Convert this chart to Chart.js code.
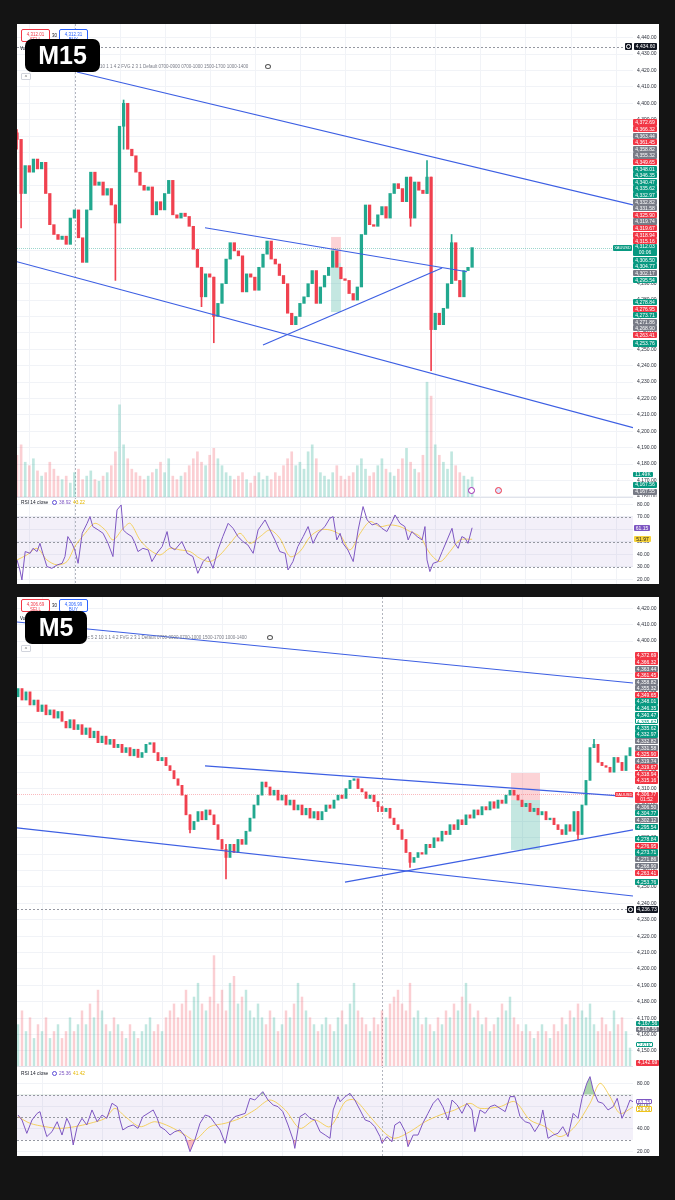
<!DOCTYPE html>
<html>
<head>
<meta charset="utf-8">
<title>XAUUSD M15 / M5</title>
<script src="https://cdn.jsdelivr.net/npm/chart.js@4.4.1/dist/chart.umd.min.js"></script>
<style>
  body { margin:0; width:675px; height:1200px; background:#141414; position:relative; overflow:hidden; font-family:"Liberation Sans", Arial, sans-serif; }
  .panel { position:absolute; left:17px; width:642px; background:#fff; }
  canvas { position:absolute; left:17px; }
  .sep { position:absolute; left:17px; width:616px; height:1px; background:#e0e3eb; }
  .tag { position:absolute; box-sizing:border-box; font-size:5px; text-align:center; color:#fff; white-space:nowrap; border-radius:1px; overflow:hidden; }
  .r { background:#f23645; } .g { background:#089981; } .k { background:#787b86; } .b { background:#131722; }
  .p { background:#7e57c2; } .y { background:#f7d33c; color:#131722; }
  .og { background:#fff; color:#089981; border:0.6px solid #089981; }
  .op { background:#fff; color:#7e57c2; border:0.6px solid #7e57c2; }
  .oy { background:#fff; color:#c9a200; border:0.6px solid #f0c419; }
  .tf { position:absolute; left:25px; background:#000; color:#fff; font:bold 25px "Liberation Sans", Arial, sans-serif; border-radius:7px; text-align:center; }
  .txt { position:absolute; font-size:4.5px; color:#787b86; white-space:nowrap; }
  .order { position:absolute; box-sizing:border-box; width:29px; height:13px; border:0.7px solid; border-radius:2px; font-size:4.5px; text-align:center; line-height:5px; padding-top:1.5px; background:#fff; }
  .btn { position:absolute; left:21px; width:10px; height:7px; box-sizing:border-box; border:0.6px solid #d1d4dc; border-radius:1px; font-size:5px; line-height:7px; text-align:center; color:#555; background:#fff; }
  .dot { position:absolute; box-sizing:border-box; border-radius:50%; }
</style>
</head>
<body>
<div class="panel" style="top:24px;height:560px"></div>
<div class="panel" style="top:597px;height:559px"></div>

<canvas id="m15Price" width="642" height="473" style="top:24px"></canvas>
<canvas id="m15Rsi" width="642" height="87" style="top:497px"></canvas>
<canvas id="m5Price" width="642" height="469" style="top:597px"></canvas>
<canvas id="m5Rsi" width="642" height="90" style="top:1066px"></canvas>
<div class="sep" style="top:497px"></div>
<div class="sep" style="top:1066px"></div>

<!-- M15 header -->
<div class="order" style="left:21px;top:29px;border-color:#f23645;color:#f23645">4,312.01<br>SELL</div>
<div class="txt" style="left:52px;top:33px;color:#131722">30</div>
<div class="order" style="left:59px;top:29px;border-color:#2962ff;color:#2962ff">4,312.31<br>BUY</div>
<div class="txt" style="left:20px;top:46px;color:#131722">Vol</div>
<div class="txt" style="left:100px;top:64px">10 1 1 4 2 FVG 2 3 1 Default 0700-0900 0700-1000 1500-1700 1000-1400</div>
<div class="dot" style="left:265px;top:64px;width:6px;height:5px;border:1px solid #555"></div>
<div class="btn" style="top:73px">^</div>
<div class="tf" style="top:39px;width:75px;height:33px;line-height:33px">M15</div>
<div class="txt" style="left:21px;top:500px;color:#131722;font-size:4.8px">RSI 14 close</div>
<div class="dot" style="left:52px;top:500px;width:5px;height:5px;border:1.2px solid #5b4bd6"></div>
<div class="txt" style="left:59px;top:500px;color:#7e57c2;font-size:4.8px">38.92</div>
<div class="txt" style="left:73px;top:500px;color:#e6b800;font-size:4.8px">43.22</div>
<div class="dot" style="left:468px;top:487px;width:7px;height:7px;border:1px solid #9c27b0;background:#fff"></div>
<div class="dot" style="left:495px;top:487px;width:7px;height:7px;border:1px solid #f23645;background:#dbe4ff"></div>

<!-- M5 header -->
<div class="order" style="left:21px;top:599px;border-color:#f23645;color:#f23645">4,306.69<br>SELL</div>
<div class="txt" style="left:52px;top:603px;color:#131722">30</div>
<div class="order" style="left:59px;top:599px;border-color:#2962ff;color:#2962ff">4,306.99<br>BUY</div>
<div class="txt" style="left:20px;top:616px;color:#131722">Vol</div>
<div class="txt" style="left:86px;top:635px">rc 5 2 10 1 1 4 2 FVG 2 3 1 Default 0700-0900 0700-1000 1500-1700 1000-1400</div>
<div class="dot" style="left:267px;top:635px;width:6px;height:5px;border:1px solid #555"></div>
<div class="btn" style="top:645px">^</div>
<div class="tf" style="top:611px;width:62px;height:33px;line-height:33px">M5</div>
<div class="txt" style="left:21px;top:1071px;color:#131722;font-size:4.8px">RSI 14 close</div>
<div class="dot" style="left:52px;top:1071px;width:5px;height:5px;border:1.2px solid #5b4bd6"></div>
<div class="txt" style="left:59px;top:1071px;color:#7e57c2;font-size:4.8px">25.36</div>
<div class="txt" style="left:73px;top:1071px;color:#e6b800;font-size:4.8px">41.42</div>

<script>
// ---------- M15 data ----------
const m15Open0 = 4382;
const m15Close = [
  4378, 4345, 4362, 4358, 4366, 4360, 4364, 4345, 4326, 4320,
  4317, 4319, 4314, 4330, 4335, 4318, 4303, 4335, 4358, 4350,
  4352, 4344, 4348, 4338, 4327, 4386, 4400, 4372, 4368, 4358,
  4350, 4347, 4349, 4332, 4340, 4335, 4345, 4353, 4332, 4330,
  4333, 4331, 4325, 4311, 4300, 4282, 4296, 4294, 4270, 4278,
  4290, 4305, 4315, 4310, 4307, 4285, 4296, 4294, 4286, 4300,
  4308, 4316, 4305, 4302, 4295, 4290, 4272, 4265, 4270, 4278,
  4282, 4290, 4298, 4278, 4288, 4295, 4300, 4310, 4300, 4293,
  4292, 4284, 4280, 4288, 4320, 4338, 4326, 4325, 4332, 4337,
  4330, 4345, 4351, 4348, 4340, 4355, 4330, 4352, 4347, 4345,
  4355, 4262, 4272, 4265, 4275, 4290, 4315, 4292, 4282, 4298,
  4300, 4312
];
// [candle, low, high] for the visible wicks
const m15Wicks = [
  [0, 4372, 4384], [1, 4324, 4362], [24, 4292, 4338], [26, 4372, 4402], [45, 4276, 4300],
  [48, 4254, 4294], [96, 4325, 4355], [100, 4345, 4365], [101, 4237, 4355], [106, 4290, 4320]
];
const m15Volume = [
  24, 30, 20, 18, 22, 15, 12, 14, 20, 16,
  12, 10, 12, 8, 14, 16, 10, 12, 15, 10,
  9, 12, 14, 18, 26, 53, 30, 22, 16, 14,
  12, 10, 12, 14, 16, 20, 14, 22, 12, 10,
  12, 14, 18, 22, 26, 20, 18, 24, 28, 22,
  18, 14, 12, 10, 12, 14, 10, 8, 12, 14,
  10, 12, 10, 14, 12, 18, 22, 26, 18, 20,
  16, 26, 30, 22, 14, 12, 10, 14, 18, 12,
  10, 12, 14, 18, 22, 16, 12, 14, 18, 22,
  16, 14, 12, 16, 22, 28, 20, 16, 14, 24,
  66, 58, 30, 24, 20, 16, 26, 18, 14, 12,
  10, 11.49
];
const m15Trends = [
  [[14.63, 4419.1], [150.24, 4338.0]],
  [[0, 4303.4], [150.24, 4202.2]],
  [[45.85, 4324.1], [109.76, 4297.3]],
  [[60, 4252.6], [103.66, 4299.6]]
];
const m15Position = { from: 76.6, to: 79.0, stop: 4318.5, entry: 4302.6, target: 4272.7 };
const m15Rsi = [
  [0,35.4],[0.7,27.4],[1.2,19.4],[2,42.1],[3.2,40.7],[3.9,44.7],[4.9,42.1],[5.6,48.7],[6.3,40.7],[7.3,30.1],
  [8.5,28.7],[9.8,31.4],[11,32.7],[11.7,38.1],[12.4,54.1],[13.4,48.7],[14.1,43.4],[14.9,32.7],[15.9,56.7],[17.1,64.7],
  [17.8,70.1],[18.5,62.1],[19.8,59.4],[21,56.7],[22.2,48.7],[23.4,38.1],[24.4,75.4],[25.4,79.4],[25.9,59.4],[26.8,56.7],
  [28,54.1],[28.8,48.7],[29.5,42.1],[30.7,44.7],[32,43.4],[32.9,34.1],[34.1,40.7],[35.4,46.1],[36.6,58.1],[37.3,46.1],
  [38.5,43.4],[40.2,50.1],[41.5,40.7],[42.9,38.1],[44.1,24.7],[45.4,34.1],[46.6,38.1],[47.8,28.7],[49,43.4],[50.2,54.1],
  [51.5,64.7],[52.7,60.7],[53.9,54.1],[55.1,50.1],[56.3,47.4],[57.6,40.7],[58.8,59.4],[60.5,67.4],[61.7,59.4],[62.9,51.4],
  [64.1,42.1],[65.4,40.7],[66.1,27.4],[67.3,34.1],[68.5,46.1],[69.8,54.1],[71,62.1],[72.2,48.7],[73.4,56.7],[75.1,62.1],
  [76.3,68.7],[77.1,70.1],[78,51.4],[78.8,56.7],[79.5,48.7],[80.7,43.4],[82,34.1],[83.2,59.4],[84.4,78.1],[85.4,67.4],
  [86.6,63.4],[87.8,64.7],[89,60.7],[90.2,58.1],[91.5,66.1],[92.2,71.4],[93.4,64.7],[94.6,62.1],[95.4,51.4],[96.3,58.1],
  [97.6,54.1],[98.8,51.4],[99.5,62.1],[100,35.4],[100.7,26.1],[101.5,32.7],[102.7,34.1],[103.7,42.1],[104.9,51.4],[106.1,60.7],
  [106.8,48.7],[107.6,44.7],[108.5,54.1],[109.3,52.7],[110,48.7],[111,61.15]
];
const m15RsiMa = [
  [0,35.4],[2.4,39.4],[4.9,44.7],[7.3,35.4],[9.8,31.4],[12.2,34.1],[14.1,46.1],[16.6,56.7],[19,64.7],[21.5,59.4],
  [23.4,51.4],[25.9,60.7],[27.6,64.7],[30,51.4],[32.4,43.4],[34.9,39.4],[37.3,44.7],[39.8,43.4],[42.2,42.1],[44.6,36.7],
  [47.1,34.1],[49.5,39.4],[52,48.7],[54.4,56.7],[56.8,48.7],[59.3,54.1],[61.7,59.4],[64.1,52.7],[66.6,38.1],[69,42.1],
  [71.5,54.1],[73.9,59.4],[76.3,59.4],[78.8,55.4],[81.2,43.4],[83.7,56.7],[86.1,66.1],[88.5,62.1],[91,63.4],[93.4,62.1],
  [95.9,58.1],[98.3,54.1],[100.7,40.7],[103.2,34.1],[105.6,42.1],[108,51.4],[111,51.97]
];
const m15TagsUpper = [
  ['4,372.69','r'],['4,366.32','r'],['4,363.44','k'],['4,361.45','r'],['4,358.82','k'],['4,355.32','k'],
  ['4,349.65','r'],['4,348.01','g'],['4,346.35','g'],['4,340.47','g'],['4,335.62','g'],['4,332.97','g'],
  ['4,332.82','k'],['4,331.58','k'],['4,325.90','r'],['4,319.74','k'],['4,319.67','r'],['4,318.94','r'],['4,315.16','r']
];
const m15TagsMid = [['4,306.50','g'],['4,304.77','g'],['4,302.17','k'],['4,295.54','g']];
const m15TagsLow = [['4,278.84','g'],['4,276.95','r'],['4,273.71','g'],['4,271.86','k'],['4,268.90','k'],['4,263.41','r']];

// ---------- M5 data ----------
const m5Open0 = 4366;
const m5Close = [
  4371, 4364, 4369, 4361, 4364, 4357, 4361, 4355, 4358, 4353,
  4357, 4351, 4347, 4352, 4346, 4349, 4343, 4347, 4341, 4345,
  4338, 4342, 4337, 4340, 4335, 4337, 4332, 4335, 4330, 4334,
  4329, 4332, 4337, 4338, 4332, 4327, 4329, 4324, 4321, 4316,
  4312, 4306, 4294, 4285, 4290, 4296, 4291, 4297, 4294, 4288,
  4279, 4273, 4268, 4276, 4271, 4279, 4276, 4284, 4292, 4300,
  4306, 4314, 4311, 4306, 4309, 4303, 4306, 4300, 4303, 4297,
  4300, 4294, 4298, 4292, 4296, 4291, 4296, 4300, 4298, 4303,
  4306, 4304, 4310, 4315, 4316, 4310, 4308, 4304, 4306, 4302,
  4299, 4296, 4298, 4292, 4288, 4285, 4279, 4271, 4265, 4268,
  4271, 4270, 4276, 4274, 4280, 4278, 4284, 4282, 4288, 4285,
  4291, 4288, 4294, 4292, 4297, 4294, 4299, 4297, 4302, 4298,
  4303, 4301, 4306, 4309, 4306, 4303, 4299, 4301, 4296, 4298,
  4294, 4296, 4291, 4292, 4288, 4285, 4282, 4288, 4284, 4296,
  4282, 4300, 4315, 4335, 4337, 4326, 4324, 4323, 4320, 4329,
  4326, 4321, 4330, 4335
];
const m5Wicks = [
  [43, 4283, 4294], [52, 4255, 4276], [90, 4296, 4302], [98, 4262, 4271], [140, 4279, 4296], [144, 4335, 4340]
];
const m5Volume = [
  6, 8, 5, 7, 4, 6, 5, 7, 4, 5,
  6, 4, 5, 7, 5, 6, 8, 6, 9, 7,
  11, 8, 6, 5, 7, 6, 5, 4, 6, 5,
  4, 5, 6, 7, 5, 6, 5, 7, 8, 9,
  7, 9, 11, 8, 10, 12, 9, 8, 10, 16,
  9, 11, 8, 12, 13, 9, 10, 11, 8, 7,
  9, 7, 6, 8, 7, 5, 6, 8, 7, 9,
  12, 10, 8, 7, 6, 5, 6, 7, 6, 5,
  7, 8, 6, 9, 12, 8, 7, 6, 5, 7,
  6, 8, 7, 9, 10, 11, 9, 8, 12, 7,
  8, 6, 7, 6, 5, 7, 6, 8, 7, 9,
  8, 10, 12, 9, 7, 8, 6, 7, 5, 6,
  7, 9, 8, 10, 7, 6, 5, 6, 5, 4,
  5, 6, 5, 4, 6, 5, 7, 6, 8, 7,
  9, 8, 7, 9, 6, 5, 7, 6, 5, 8,
  6, 7, 5, 2.61
];
const m5Trends = [
  [[-0.25, 4411.6], [153.75, 4374.4]],
  [[-0.25, 4286.0], [153.75, 4244.5]],
  [[46.75, 4323.8], [153.75, 4304.9]],
  [[81.75, 4253.0], [153.75, 4284.8]]
];
const m5Position = { from: 123.25, to: 130.5, stop: 4319.5, entry: 4303, target: 4272.6 };
const m5Rsi = [
  [0,52],[1,47.6],[2.2,35.8],[3.5,47.6],[4.8,53.5],[5.5,55],[6.2,44.7],[7.2,32.9],[8.5,37.3],[9.8,46.1],
  [11,34.3],[12.2,49.1],[13,43.2],[13.8,25.5],[14.8,41.7],[16,49.1],[17.2,43.2],[18.5,56.5],[19.8,46.1],[21,52],
  [22.2,49.1],[23.5,62.4],[24.8,59.4],[25.5,47.6],[26.2,38.8],[27.5,41.7],[28.8,43.2],[30,40.2],[31.2,50.6],[32.5,53.5],
  [33.8,56.5],[34.8,49.1],[35.5,41.7],[36.8,38.8],[38,34.3],[39.2,37.3],[40.5,38.8],[41.8,32.9],[43,19.6],[44.2,29.9],
  [45.5,44.7],[46.8,52],[48,50.6],[49.2,44.7],[50.5,38.8],[51.8,27],[53,46.1],[54.2,50.6],[55.5,52],[56.8,53.5],
  [58,66.8],[59.2,65.3],[61.2,72.7],[62.5,65.3],[63.8,60.9],[65,59.4],[66.2,55],[67.5,43.2],[68.8,29.9],[69.2,22.5],
  [70.5,50.6],[71.8,53.5],[73,49.1],[74.2,47.6],[75.5,37.3],[76.8,34.3],[78,31.4],[78.8,56.5],[80,68.3],[80.5,63.8],
  [81.8,68.3],[83,71.2],[84.2,65.3],[85.5,56.5],[86.8,47.6],[88,46.1],[89.2,41.7],[90.5,32.9],[91,27],[92.2,32.9],
  [93.5,28.4],[94.2,43.2],[95.5,46.1],[96.8,37.3],[97.5,24],[98.8,34.3],[100,34.3],[101.2,44.7],[102.5,53.5],[103.8,62.4],
  [105,66.8],[106.2,59.4],[107.5,47.6],[108.5,65.3],[109.8,60.9],[111,53.5],[112.2,62.4],[113.5,56.5],[114.2,37.3],[115.5,56.5],
  [116.8,53.5],[118,59.4],[119.2,60.9],[120.5,57.9],[121.8,55],[123,68.3],[124.2,68.3],[125.5,50.6],[126.8,46.1],[128,44.7],
  [129.2,37.3],[130.5,44.7],[131.2,56.5],[132.5,31.4],[133.8,34.3],[135,35.8],[136.2,41.7],[137.5,32.9],[138.8,53.5],[140,49.1],
  [141,66.8],[142.2,80.1],[143,86],[143.8,74.2],[145,63.8],[146.2,62.4],[147.5,56.5],[148.8,59.4],[149.8,66.8],[151,49.1],
  [152.2,57.9],[153,65.3],[153.75,63.75]
];
const m5RsiMa = [
  [0,50.6],[3,44.7],[6.8,41.7],[10.5,40.2],[14.2,41.7],[18,44.7],[21.8,49.1],[24.2,57.9],[26.8,50.6],[30.5,41.7],
  [34.2,46.1],[38,41.7],[41.8,34.3],[44.2,29.9],[48,41.7],[51.8,44.7],[55.5,49.1],[59.2,56.5],[63,65.3],[66.8,56.5],
  [70.5,40.2],[74.2,47.6],[78,41.7],[81.8,63.8],[84.2,65.3],[88,50.6],[91.8,35.8],[94.2,31.4],[98,37.3],[101.8,46.1],
  [105.5,52],[109.2,56.5],[113,62.4],[115.5,57.9],[120.5,59.4],[124.2,63.8],[128,47.6],[131.8,41.7],[135.5,32.9],[139.2,41.7],
  [143,62.4],[145.5,80.1],[148,68.3],[150.5,53.5],[153.75,59.06]
];
const m5TagsUpper = [
  ['4,372.69','r'],['4,366.32','r'],['4,363.44','k'],['4,361.45','r'],['4,358.82','k'],['4,355.32','k'],
  ['4,349.65','r'],['4,348.01','g'],['4,346.35','g'],['4,340.47','g'],['4,335.67','og'],['4,335.62','g'],['4,332.97','g'],
  ['4,332.82','k'],['4,331.58','k'],['4,325.90','r'],['4,319.74','k'],['4,319.67','r'],['4,318.94','r'],['4,315.16','r']
];
const m5TagsMid = [['4,306.50','k'],['4,304.77','g'],['4,302.12','k'],['4,295.54','g']];
const m5TagsLow = [['4,278.84','g'],['4,276.95','r'],['4,273.71','g'],['4,271.86','k'],['4,268.90','k'],['4,263.41','r']];

// ---------- drawing ----------
const UP = '#22a88f', DOWN = '#f0414f';
const UP_VOL = 'rgba(34,168,143,0.28)', DOWN_VOL = 'rgba(240,65,79,0.25)';
Chart.defaults.font.family = '"Liberation Sans", Arial, sans-serif';

const overlay = {
  id: 'overlay',
  beforeDatasetsDraw(chart, args, o) {
    const { ctx, chartArea: a, scales: { x, y } } = chart;
    ctx.save();
    ctx.beginPath(); ctx.rect(a.left, a.top, a.width, a.height); ctx.clip();
    ctx.lineWidth = 1;
    if (o.gridStep) {
      ctx.strokeStyle = '#f1f3f7';
      for (let v = o.gridStart; v < x.max; v += o.gridStep) {
        const px = Math.round(x.getPixelForValue(v)) + 0.5;
        ctx.beginPath(); ctx.moveTo(px, a.top); ctx.lineTo(px, a.bottom); ctx.stroke();
      }
    }
    if (o.band) {
      const t = y.getPixelForValue(70), b = y.getPixelForValue(30);
      ctx.fillStyle = 'rgba(126,87,194,0.09)';
      ctx.fillRect(a.left, t, a.width, b - t);
      ctx.strokeStyle = '#9598a1'; ctx.setLineDash([2, 2]);
      [70, 50, 30].forEach(v => {
        const py = Math.round(y.getPixelForValue(v)) + 0.5;
        ctx.beginPath(); ctx.moveTo(a.left, py); ctx.lineTo(a.right, py); ctx.stroke();
      });
      ctx.setLineDash([]);
    }
    if (o.session != null) {
      const px = Math.round(x.getPixelForValue(o.session)) + 0.5;
      ctx.strokeStyle = '#b2b5be'; ctx.setLineDash([2, 2]);
      ctx.beginPath(); ctx.moveTo(px, a.top); ctx.lineTo(px, a.bottom); ctx.stroke();
      ctx.setLineDash([]);
    }
    (o.hlines || []).forEach(h => {
      const py = Math.round(y.getPixelForValue(h.v)) + 0.5;
      ctx.strokeStyle = h.color; ctx.setLineDash(h.dash || []);
      ctx.beginPath(); ctx.moveTo(a.left, py); ctx.lineTo(a.right, py); ctx.stroke();
    });
    ctx.setLineDash([]);
    if (o.box) {
      const b = o.box, x0 = x.getPixelForValue(b.from), x1 = x.getPixelForValue(b.to);
      const ys = y.getPixelForValue(b.stop), ye = y.getPixelForValue(b.entry), yt = y.getPixelForValue(b.target);
      ctx.fillStyle = 'rgba(242,54,69,0.22)'; ctx.fillRect(x0, ys, x1 - x0, ye - ys);
      ctx.fillStyle = 'rgba(8,153,129,0.24)'; ctx.fillRect(x0, ye, x1 - x0, yt - ye);
    }
    ctx.restore();
  }
};
Chart.register(overlay);

function rightAxis(min, max, step, fmt) {
  return {
    position: 'right', min, max, beginAtZero: false,
    border: { display: false },
    grid: { color: '#f1f3f7', drawTicks: false },
    ticks: { autoSkip: false, padding: 4, color: '#2a2e39', font: { size: 5 }, callback: fmt },
    afterBuildTicks(s) {
      const t = [];
      for (let v = Math.ceil(min / step) * step; v <= max; v += step) t.push({ value: v });
      s.ticks = t;
    },
    afterFit(s) { s.width = 26; s.paddingTop = 0; s.paddingBottom = 0; }
  };
}
const fmtPrice = v => v.toLocaleString('en-US', { minimumFractionDigits: 2, maximumFractionDigits: 2 });
const pts = arr => arr.map(([x, y]) => ({ x, y }));

function drawPrice(id, s) {
  const opens = [s.open0].concat(s.close.slice(0, -1));
  const up = s.close.map((c, i) => c >= opens[i]);
  const lines = s.trends.map(t => ({
    type: 'line', data: pts(t), borderColor: '#3d5fe3', borderWidth: 1.2, pointRadius: 0, order: 0
  }));
  new Chart(document.getElementById(id), {
    type: 'bar',
    data: {
      datasets: lines.concat([
        { data: s.close.map((c, i) => ({ x: i, y: [opens[i], c] })), backgroundColor: up.map(u => u ? UP : DOWN),
          barThickness: s.body, minBarLength: 1, grouped: false, order: 1 },
        { data: s.wicks.map(([i, lo, hi]) => ({ x: i, y: [lo, hi] })), backgroundColor: s.wicks.map(([i]) => up[i] ? UP : DOWN),
          barThickness: 1, grouped: false, order: 2 },
        { data: s.volume.map((v, i) => ({ x: i, y: v })), yAxisID: 'yv', backgroundColor: up.map(u => u ? UP_VOL : DOWN_VOL),
          barThickness: s.volBar, grouped: false, order: 3 }
      ])
    },
    options: {
      responsive: false, animation: false, events: [],
      layout: { padding: 0 },
      plugins: { legend: { display: false }, tooltip: { enabled: false }, overlay: s.overlay },
      scales: {
        x: { type: 'linear', min: s.xmin, max: s.xmax, display: false, offset: false },
        y: rightAxis(s.ymin, s.ymax, 10, fmtPrice),
        yv: { type: 'linear', display: false, min: 0, max: s.vmax }
      }
    }
  });
}

function drawRsi(id, s) {
  const ds = [
    { data: pts(s.rsi), borderColor: '#7e57c2', borderWidth: 1, pointRadius: 0,
      fill: s.fill ? { target: { value: 70 }, above: 'rgba(67,160,71,0.45)', below: 'rgba(0,0,0,0)' } : false },
    { data: pts(s.ma), borderColor: 'rgba(244,200,60,0.8)', borderWidth: 1, pointRadius: 0, tension: 0.3 }
  ];
  if (s.fill) {
    ds.push({ data: pts(s.rsi), borderColor: 'rgba(0,0,0,0)', borderWidth: 0, pointRadius: 0,
      fill: { target: { value: 30 }, above: 'rgba(0,0,0,0)', below: 'rgba(242,54,69,0.35)' } });
  }
  new Chart(document.getElementById(id), {
    type: 'line',
    data: { datasets: ds },
    options: {
      responsive: false, animation: false, events: [],
      layout: { padding: 0 },
      plugins: { legend: { display: false }, tooltip: { enabled: false }, overlay: s.overlay },
      scales: {
        x: { type: 'linear', min: s.xmin, max: s.xmax, display: false },
        y: rightAxis(s.ymin, s.ymax, s.step, v => v.toFixed(2))
      }
    }
  });
}

drawPrice('m15Price', {
  open0: m15Open0, close: m15Close, wicks: m15Wicks, volume: m15Volume, trends: m15Trends,
  xmin: 0, xmax: 150.24, ymin: 4159.94, ymax: 4448.35, vmax: 272, body: 2.6, volBar: 2,
  overlay: { gridStep: 11, gridStart: 3, session: 14.15, box: m15Position,
    hlines: [{ v: 4434.60, color: '#9598a1', dash: [2, 2] }, { v: 4312.03, color: 'rgba(8,153,129,0.4)', dash: [1, 1] }] }
});
drawRsi('m15Rsi', {
  rsi: m15Rsi, ma: m15RsiMa, fill: false, xmin: 0, xmax: 150.24, ymin: 16.16, ymax: 85.76, step: 10,
  overlay: { gridStep: 11, gridStart: 3, session: 14.15, band: true }
});
drawPrice('m5Price', {
  open0: m5Open0, close: m5Close, wicks: m5Wicks, volume: m5Volume, trends: m5Trends,
  xmin: -0.25, xmax: 153.75, ymin: 4140.85, ymax: 4426.83, vmax: 68, body: 2.2, volBar: 1.8,
  overlay: { gridStep: 15, gridStart: 6, session: 91, box: m5Position,
    hlines: [{ v: 4236.73, color: '#9598a1', dash: [2, 2] }, { v: 4306.77, color: 'rgba(242,54,69,0.35)', dash: [1, 1] }] }
});
drawRsi('m5Rsi', {
  rsi: m5Rsi, ma: m5RsiMa, fill: true, xmin: -0.25, xmax: 153.75, ymin: 15.75, ymax: 95.4, step: 20,
  overlay: { gridStep: 15, gridStart: 6, session: 91, band: true }
});

// ---------- price-scale tags ----------
function tag(text, kind, left, top, w, h, lh, size) {
  const d = document.createElement('div');
  d.className = 'tag ' + kind;
  Object.assign(d.style, { left: left + 'px', top: top + 'px', width: w + 'px', height: h + 'px',
    lineHeight: (lh || h) + 'px', fontSize: (size || 5) + 'px' });
  d.innerHTML = text;
  document.body.appendChild(d);
}
function stack(items, left, top, step, w) {
  items.forEach(([t, k], i) => tag(t, k, left, top + i * step, w, step - 0.4));
}
function markerIcon(left, top) {
  tag('<span style="display:inline-block;width:3px;height:3px;border:0.7px solid #fff;border-radius:50%;margin-top:1px"></span>', 'b', left, top, 7, 6.5, 4);
}

// M15 scale
stack(m15TagsUpper, 633, 119.4, 6.6, 24);
tag('4,312.03<br>00:06', 'g', 633, 244.3, 24, 12, 5.6);
stack(m15TagsMid, 633, 256.7, 6.6, 24);
stack(m15TagsLow, 633, 299, 6.5, 24);
tag('4,253.76', 'g', 633, 340.4, 24, 6.4);
tag('XAUUSD', 'g', 613, 245.4, 19, 5.6, 5.6, 4);
markerIcon(625, 43.3);
tag('4,434.60', 'b', 634, 43.3, 23, 6.5);
tag('11.49K', 'g', 633, 471.6, 20, 5.8);
tag('4,167.56', 'g', 633, 482.4, 24, 5.8);
tag('4,167.55', 'k', 633, 488.8, 24, 5.8);
tag('61.15', 'p', 634, 524.8, 16, 6);
tag('51.97', 'y', 634, 536, 17, 6);

// M5 scale
stack(m5TagsUpper, 635, 652.4, 6.58, 23);
tag('4,306.77<br>01:52', 'r', 635, 791.5, 23, 11.5, 5.4);
stack(m5TagsMid, 635, 803.7, 6.6, 23);
stack(m5TagsLow, 635, 836, 6.7, 23);
tag('4,253.76', 'g', 635, 878.6, 23, 6.4);
tag('XAUUSD', 'r', 615, 791.6, 18, 5.2, 5.2, 4);
markerIcon(627, 906.3);
tag('4,236.73', 'b', 636, 906.3, 22, 6.5);
tag('4,167.56', 'g', 636, 1020.5, 23, 5.6);
tag('4,167.55', 'k', 636, 1026.6, 23, 5.6);
tag('2.61K', 'og', 636, 1041.5, 17, 5.8);
tag('4,142.69', 'r', 636, 1060.2, 23, 5.8);
tag('63.75', 'op', 636, 1098.8, 16, 5.6);
tag('59.06', 'oy', 636, 1106.2, 16, 5.6);
</script>
</body>
</html>
